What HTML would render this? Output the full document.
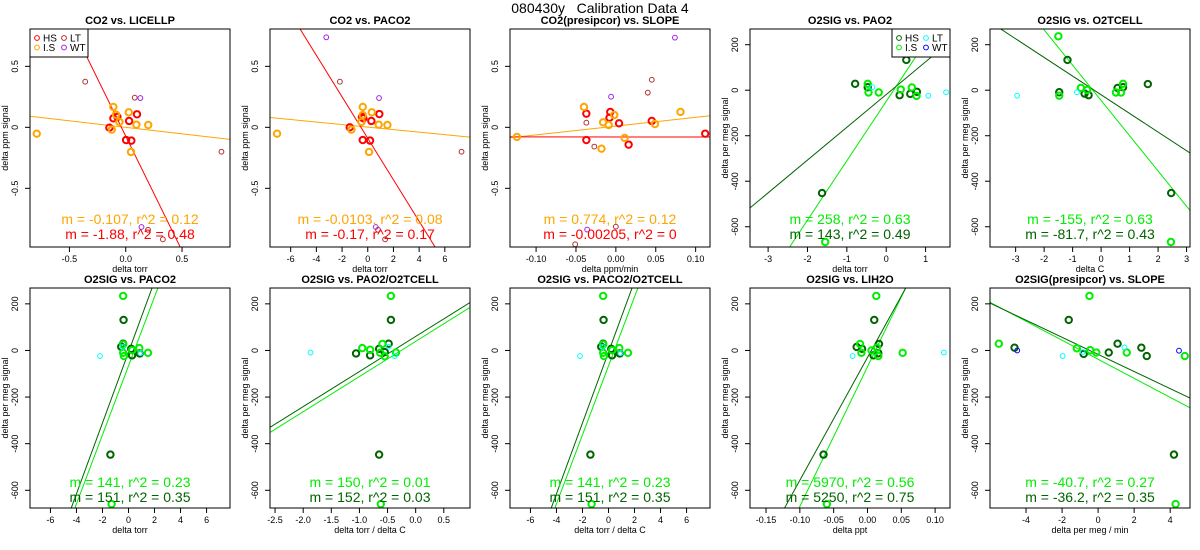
<!DOCTYPE html>
<html><head><meta charset="utf-8"><style>
html,body{margin:0;padding:0;background:#fff;width:1200px;height:550px;overflow:hidden;}
svg{display:block;font-family:"Liberation Sans",sans-serif;}
</style></head><body>
<svg id="chart" width="1200" height="550" viewBox="0 0 1200 550" xmlns="http://www.w3.org/2000/svg">
<rect width="1200" height="550" fill="#fff"/>
<text x="600" y="13" text-anchor="middle" font-size="14" style="white-space:pre">080430y   Calibration Data 4</text>
</svg>
<script>
// ---- data ----
const p1_hsX=[-0.11,0.03,0.10,0.003,0.05,-0.145,-0.074];
const p1_hsY=[0.074,0.052,0.107,-0.104,-0.109,-0.003,0.085];
const p1_lsX=[-0.79,-0.11,-0.086,0.027,-0.056,0.095,0.20,0.047,-0.124];
const p1_lsY=[-0.052,0.167,0.104,0.123,0.044,0.022,0.019,-0.202,-0.019];
const p1_ltX=[-0.36,0.08,0.198,0.33,0.85];
const p1_ltY=[0.374,0.243,-0.84,-0.918,-0.2];
const p1_wtX=[0.13,0.14];
const p1_wtY=[0.24,-0.817];

const p2_hsX=[-0.34,0.28,0.9,-0.39,0.18,-1.4,-0.45];
const p2_hsY=[0.074,0.052,0.109,-0.104,-0.109,0.0,0.085];
const p2_lsX=[-7.06,-0.39,-0.39,0.31,-0.49,0.85,1.53,0.1,-1.27];
const p2_lsY=[-0.052,0.167,0.10,0.123,0.044,0.022,0.019,-0.202,-0.019];
const p2_ltX=[-2.17,0.8,1.35,7.3];
const p2_ltY=[0.374,-0.84,-0.918,-0.2];
const p2_wtX=[-3.23,0.88,0.62];
const p2_wtY=[0.738,0.24,-0.817];

const p3_hsX=[-0.037,-0.037,-0.007,-0.008,0.004,0.016,0.045,0.112];
const p3_hsY=[0.112,-0.104,0.126,0.079,0.033,-0.142,0.052,-0.052];
const p3_lsX=[-0.124,-0.04,-0.016,-0.009,-0.002,0.011,0.049,0.081,-0.018];
const p3_lsY=[-0.079,0.167,0.041,0.019,0.101,-0.087,0.027,0.126,-0.175];
const p3_ltX=[-0.027,-0.037,0.04,0.045,0.0,-0.051];
const p3_ltY=[-0.158,0.038,0.284,0.39,-0.814,-0.959];
const p3_wtX=[-0.006,0.074,-0.036];
const p3_wtY=[0.251,0.735,-0.838];

const p4_hsX=[0.51,-0.79,-0.47,0.34,0.61,0.78,-1.63];
const p4_hsY=[133,28,13,-22,-16,-7,-452];
const p4_lsX=[-0.47,-0.45,-0.19,0.37,0.65,0.77,-1.55];
const p4_lsY=[28,-10,-10,3,12,-25,-667];
const p4_ltX=[-0.35,1.07,1.52];
const p4_ltY=[13,-24,-9];

const p5_hsX=[-1.18,1.64,-0.58,-0.44,0.58,0.77,2.46,-1.47];
const p5_hsY=[133,27,-15,-22,10,13,-452,-9];
const p5_lsX=[-1.5,-1.47,-0.71,-0.49,0.52,0.7,0.77,2.45];
const p5_lsY=[237,-24,10,1,-10,-10,28,-667];
const p5_ltX=[-2.95,-0.85];
const p5_ltY=[-24,-9];

const p6_hsX=[-0.38,-1.39,-0.56,0.21,0.27,0.86,-0.41];
const p6_hsY=[131,-447,16,7,-21,-13,29];
const p6_lsX=[-0.41,-1.3,-0.41,-0.41,-0.35,0.27,0.83,1.5];
const p6_lsY=[234,-659,26,-10,-24,1,10,-10];
const p6_ltX=[-2.19,0.92,-0.47];
const p6_ltY=[-24,-12,15];

const p7_hsX=[-0.44,-0.65,-0.48,-1.06,-0.81,-0.65,-0.55];
const p7_hsY=[131,-447,29,-13,-21,7,-7];
const p7_lsX=[-0.44,-0.62,-0.59,-0.95,-0.81,-0.63,-0.55,-0.35];
const p7_lsY=[234,-659,28,10,3,-10,-25,-9];
const p7_ltX=[-1.87,-0.37,-0.48];
const p7_ltY=[-9,-24,16];

const p9_hsX=[0.01,-0.065,-0.016,-0.008,0.017,0.009,0.016];
const p9_hsY=[131,-447,15,7,28,-21,-12];
const p9_lsX=[0.013,-0.06,-0.011,-0.009,0.006,0.014,0.016,0.052];
const p9_lsY=[234,-659,28,-10,0,12,-24,-10];
const p9_ltX=[-0.022,0.113];
const p9_ltY=[-24,-9];

const p10_hsX=[-1.63,4.21,-4.64,-0.8,0.59,1.08,2.4,2.7];
const p10_hsY=[131,-447,12,-15,-9,29,12,-24];
const p10_lsX=[-0.48,4.3,-5.51,-1.18,-0.44,-0.1,1.59,4.81];
const p10_lsY=[234,-659,29,9,1,-9,-9,-24];
const p10_ltX=[-1.97,1.46,-0.85];
const p10_ltY=[-24,13,-7];
const p10_wtX=[-4.49,4.49];
const p10_wtY=[0,-1];

// fits: [slope, intercept]
const fitCO2_p1=[[-0.107,0.0],[-1.88,-0.072]];
const fitCO2_p2=[[-0.0103,0.002],[-0.17,-0.09]];
const fitCO2_p3=[[0.72,0.0097],[-0.00205,-0.079]];
const fitO2_p4=[[261,-49],[144,-19]];
const fitO2_p5=[[-155,-45],[-82,-20]];
const fitO2_p6=[[148,-66],[152,-7]];
const fitO2_p7=[[151,39],[150.5,60]];
const fitO2_p9=[[5990,-70],[5270,-30]];
const fitO2_p10=[[-40.8,-38],[-36.7,-17]];

const co2YTicks=[-0.5,0,0.5];
const o2YTicks=[-600,-400,-200,0,200];

const NS="http://www.w3.org/2000/svg";
const svg=document.getElementById('chart');
function mk(tag,attrs,parent){const e=document.createElementNS(NS,tag);for(const k in attrs)e.setAttribute(k,attrs[k]);(parent||svg).appendChild(e);return e;}

const CO2C={hs:'#ff0000',ls:'#ffa500',lt:'#b03030',wt:'#a020f0'};
const O2C={hs:'#006400',ls:'#00ee00',lt:'#00ffff',wt:'#0000ff'};

function panel(idx,col,row,title,xr,yr,xTicks,xTickLbl,yTicks,xlab,ylab,series,fits,colors,ann,legend){
  const L=30+240*col, W=200, T=row?288:29, H=row?220:218;
  const g=mk('g',{});
  
  
  const sx=v=>L+(v-xr[0])/(xr[1]-xr[0])*W;
  const sy=v=>T+H-(v-yr[0])/(yr[1]-yr[0])*H;
  const cp=mk('clipPath',{id:'cp'+idx},g);
  mk('rect',{x:L,y:T,width:W,height:H},cp);
  const t=mk('text',{x:L+W/2,y:T-5,'text-anchor':'middle','font-size':'11','font-weight':'bold'},g);
  t.textContent=title;
  
  
  xTicks.forEach((v,i)=>{
    const x=sx(v);
    mk('line',{x1:x,x2:x,y1:T+H,y2:T+H+5,stroke:'#000'},g);
    const tx=mk('text',{x:x,y:T+H+15,'text-anchor':'middle','font-size':'9'},g);
    tx.textContent=xTickLbl[i];
    
    
  });
  yTicks.forEach(v=>{
    const y=sy(v);
    mk('line',{x1:L-5,x2:L,y1:y,y2:y,stroke:'#000'},g);
    const ty=mk('text',{x:L-12,y:y,'text-anchor':'middle','font-size':'9',transform:`rotate(-90 ${L-12} ${y})`},g);
    ty.textContent=String(v);
    
    
  });
  const xl=mk('text',{x:L+W/2,y:T+H+25,'text-anchor':'middle','font-size':'9'},g);
  xl.textContent=xlab;
  
  
  const yc=T+H/2;
  const yl=mk('text',{x:L-22,y:yc,'text-anchor':'middle','font-size':'9',transform:`rotate(-90 ${L-22} ${yc})`},g);
  yl.textContent=ylab;
  
  
  const inner=mk('g',{'clip-path':`url(#cp${idx})`},g);
  fits.forEach((f,i)=>{
    const ln=mk('line',{x1:sx(xr[0]),y1:sy(f[0]*xr[0]+f[1]),x2:sx(xr[1]),y2:sy(f[0]*xr[1]+f[1]),stroke:i===0?colors.ls:colors.hs,'stroke-width':1},inner);
    
    
  });
  series.forEach(s=>{
    s.x.forEach((v,i)=>{
      const c=mk('circle',{cx:sx(v),cy:sy(s.y[i]),r:s.thick?3.2:2.4,fill:'none',stroke:colors[s.k],'stroke-width':s.thick?2:1},inner);
      
      
    });
  });
  ann.forEach((a,i)=>{
    const at=mk('text',{x:L+W/2,y:(row?487:224)+i*15,'text-anchor':'middle','font-size':'14',fill:a[1]},g);
    at.textContent=a[0];
    
    
  });
  if(legend){
    const lx=legend==='left'?L:L+W-58;
    const lg=mk('g',{},g);
    
    
    mk('rect',{x:lx,y:T,width:58,height:28,fill:'#fff',stroke:'#000'},lg);
    [['HS','hs',0,0],['LS','ls',0,1],['LT','lt',1,0],['WT','wt',1,1]].forEach(e=>{
      const ex=lx+7+e[2]*27, ey=T+9+e[3]*9.5;
      mk('circle',{cx:ex,cy:ey,r:2.4,fill:'none',stroke:colors[e[1]],'stroke-width':1},lg);
      const et=mk('text',{x:ex+6,y:ey+3.5,'font-size':'10'},lg);
      et.textContent=e[0]==='LS'?'I.S':e[0];
      
      
    });
  }
  mk('rect',{x:L,y:T,width:W,height:H,fill:'none',stroke:'#000','stroke-width':1},g);
}
function S(k,x,y,thick){return {k:k,x:x,y:y,thick:thick};}
const yCO2=[-0.981,0.806], yO2t=[-689,269], yO2b=[-676,268];
const O2lab='delta per meg signal';

panel(1,0,0,'CO2 vs. LICELLP',[-0.85,0.926],yCO2,[-0.5,0,0.5],['-0.5','0.0','0.5'],co2YTicks,'delta torr','delta ppm signal',
 [S('hs',p1_hsX,p1_hsY,1),S('ls',p1_lsX,p1_lsY,1),S('lt',p1_ltX,p1_ltY,0),S('wt',p1_wtX,p1_wtY,0)],fitCO2_p1,CO2C,
 [['m = -0.107, r^2 = 0.12',CO2C.ls],['m = -1.88, r^2 = 0.48',CO2C.hs]],'left');
panel(2,1,0,'CO2 vs. PACO2',[-7.61,7.96],yCO2,[-6,-4,-2,0,2,4,6],['-6','-4','-2','0','2','4','6'],co2YTicks,'delta torr','delta ppm signal',
 [S('hs',p2_hsX,p2_hsY,1),S('ls',p2_lsX,p2_lsY,1),S('lt',p2_ltX,p2_ltY,0),S('wt',p2_wtX,p2_wtY,0)],fitCO2_p2,CO2C,
 [['m = -0.0103, r^2 = 0.08',CO2C.ls],['m = -0.17, r^2 = 0.17',CO2C.hs]],null);
panel(3,2,0,'CO2(presipcor) vs. SLOPE',[-0.1327,0.118],yCO2,[-0.1,-0.05,0,0.05,0.1],['-0.10','-0.05','0.00','0.05','0.10'],co2YTicks,'delta ppm/min','delta ppm signal',
 [S('hs',p3_hsX,p3_hsY,1),S('ls',p3_lsX,p3_lsY,1),S('lt',p3_ltX,p3_ltY,0),S('wt',p3_wtX,p3_wtY,0)],fitCO2_p3,CO2C,
 [['m = 0.774, r^2 = 0.12',CO2C.ls],['m = -0.00205, r^2 = 0',CO2C.hs]],null);
panel(4,3,0,'O2SIG vs. PAO2',[-3.46,1.62],yO2t,[-3,-2,-1,0,1],['-3','-2','-1','0','1'],o2YTicks,'delta torr',O2lab,
 [S('hs',p4_hsX,p4_hsY,1),S('ls',p4_lsX,p4_lsY,1),S('lt',p4_ltX,p4_ltY,0)],fitO2_p4,O2C,
 [['m = 258, r^2 = 0.63',O2C.ls],['m = 143, r^2 = 0.49',O2C.hs]],'right');
panel(5,4,0,'O2SIG vs. O2TCELL',[-3.9,3.12],yO2t,[-3,-2,-1,0,1,2,3],['-3','-2','-1','0','1','2','3'],o2YTicks,'delta C',O2lab,
 [S('hs',p5_hsX,p5_hsY,1),S('ls',p5_lsX,p5_lsY,1),S('lt',p5_ltX,p5_ltY,0)],fitO2_p5,O2C,
 [['m = -155, r^2 = 0.63',O2C.ls],['m = -81.7, r^2 = 0.43',O2C.hs]],null);
panel(6,0,1,'O2SIG vs. PACO2',[-7.57,7.8],yO2b,[-6,-4,-2,0,2,4,6],['-6','-4','-2','0','2','4','6'],o2YTicks,'delta torr',O2lab,
 [S('hs',p6_hsX,p6_hsY,1),S('ls',p6_lsX,p6_lsY,1),S('lt',p6_ltX,p6_ltY,0)],fitO2_p6,O2C,
 [['m = 141, r^2 = 0.23',O2C.ls],['m = 151, r^2 = 0.35',O2C.hs]],null);
panel(7,1,1,'O2SIG vs. PAO2/O2TCELL',[-2.59,0.966],yO2b,[-2.5,-2,-1.5,-1,-0.5,0,0.5],['-2.5','-2.0','-1.5','-1.0','-0.5','0.0','0.5'],o2YTicks,'delta torr / delta C',O2lab,
 [S('hs',p7_hsX,p7_hsY,1),S('ls',p7_lsX,p7_lsY,1),S('lt',p7_ltX,p7_ltY,0)],fitO2_p7,O2C,
 [['m = 150, r^2 = 0.01',O2C.ls],['m = 152, r^2 = 0.03',O2C.hs]],null);
panel(8,2,1,'O2SIG vs. PACO2/O2TCELL',[-7.57,7.8],yO2b,[-6,-4,-2,0,2,4,6],['-6','-4','-2','0','2','4','6'],o2YTicks,'delta torr / delta C',O2lab,
 [S('hs',p6_hsX,p6_hsY,1),S('ls',p6_lsX,p6_lsY,1),S('lt',p6_ltX,p6_ltY,0)],fitO2_p6,O2C,
 [['m = 141, r^2 = 0.23',O2C.ls],['m = 151, r^2 = 0.35',O2C.hs]],null);
panel(9,3,1,'O2SIG vs. LIH2O',[-0.1737,0.122],yO2b,[-0.15,-0.1,-0.05,0,0.05,0.1],['-0.15','-0.10','-0.05','0.00','0.05','0.10'],o2YTicks,'delta ppt',O2lab,
 [S('hs',p9_hsX,p9_hsY,1),S('ls',p9_lsX,p9_lsY,1),S('lt',p9_ltX,p9_ltY,0)],fitO2_p9,O2C,
 [['m = 5970, r^2 = 0.56',O2C.ls],['m = 5250, r^2 = 0.75',O2C.hs]],null);
panel(10,4,1,'O2SIG(presipcor) vs. SLOPE',[-6.0,5.1],yO2b,[-4,-2,0,2,4],['-4','-2','0','2','4'],o2YTicks,'delta per meg / min',O2lab,
 [S('hs',p10_hsX,p10_hsY,1),S('ls',p10_lsX,p10_lsY,1),S('lt',p10_ltX,p10_ltY,0),S('wt',p10_wtX,p10_wtY,0)],fitO2_p10,O2C,
 [['m = -40.7, r^2 = 0.27',O2C.ls],['m = -36.2, r^2 = 0.35',O2C.hs]],null);
</script>
</body></html>
